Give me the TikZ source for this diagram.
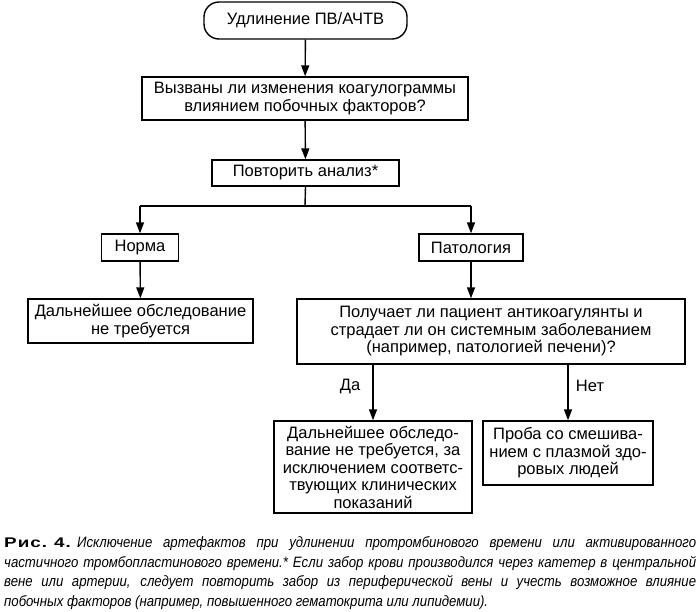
\documentclass[tikz,border=0pt]{standalone}
\usepackage{fontspec}
\setmainfont{Liberation Sans}
\newfontfamily\capbold[FakeStretch=1.35,LetterSpace=7]{Liberation Sans Bold}
\newfontfamily\capit[FakeStretch=0.88]{Liberation Sans Italic}
\usetikzlibrary{arrows.meta}
\begin{document}
\begin{tikzpicture}[x=1pt,y=-1pt,
  every node/.style={font=\fontsize{16.5}{17.5}\selectfont, inner sep=0pt, align=center},
  box/.style={draw, line width=1.4pt, minimum width=#1},
  arr/.style={line width=1.4pt, -{Triangle[length=11pt,width=8pt]}},
  ln/.style={line width=1.4pt},
  lbl/.style={font=\fontsize{16.5}{17.5}\selectfont}]
\useasboundingbox (0,0) rectangle (700,611);
\node[box=203, minimum height=37, rounded corners=15] (start) at (305.5,20.5) {Удлинение ПВ/АЧТВ};
\node[box=326, minimum height=43] (q1) at (305,98.5) {Вызваны ли изменения коагулограммы\\влиянием побочных факторов?};
\node[box=187, minimum height=26] (rep) at (305.5,173) {Повторить анализ*};
\coordinate (split) at (305,206);
\coordinate (sl) at (140,206);
\coordinate (sr) at (471,206);
\node[box=77, minimum height=27] (norm) at (140,247.5) {Норма};
\node[box=104, minimum height=27] (pat) at (471,247.5) {Патология};
\node[box=225, minimum height=44] (nof) at (140.5,321) {Дальнейшее обследование\\не требуется};
\node[box=388, minimum height=65] (q2) at (491,331.5) {Получает ли пациент антикоагулянты и\\страдает ли он системным заболеванием\\(например, патологией печени)?};
\node[box=198, minimum height=92] (yes) at (373,467) {Дальнейшее обследо-\\вание не требуется, за\\исключением соответс-\\твующих клинических\\показаний};
\node[box=170, minimum height=64] (no) at (568,453) {Проба со смешива-\\нием с плазмой здо-\\ровых людей};
\node[lbl] (da) at (350,386) {Да};
\node[lbl] (net) at (590,386) {Нет};
\draw[arr] (start) -- (q1);
\draw[arr] (q1) -- (rep);
\draw[ln] (rep.south) -- (split);
\draw[ln] (sl) -- (sr);
\draw[arr] (sl) -- (norm.north);
\draw[arr] (sr) -- (pat.north);
\draw[arr] (norm) -- (nof);
\draw[arr] (pat.south) -- (pat.south |- q2.north);
\draw[arr] (q2.south -| yes.north) -- (yes.north);
\draw[arr] (q2.south -| no.north) -- (no.north);
\node[anchor=base west, text width=692, align=justify, font=\fontsize{15}{19.6}\selectfont] (cap) at (4,547.5)
{\makebox[73pt][l]{\fontsize{14}{19.6}\capbold Рис.\hspace{7pt}4.}{\capit Исключение артефактов при удлинении протромбинового времени или активированного\linebreak частичного тромбопластинового времени.* Если забор крови производился через катетер в центральной\linebreak вене или артерии, следует повторить забор из периферической вены и учесть возможное влияние\linebreak побочных факторов (например, повышенного гематокрита или липидемии).}};
\end{tikzpicture}
\end{document}
